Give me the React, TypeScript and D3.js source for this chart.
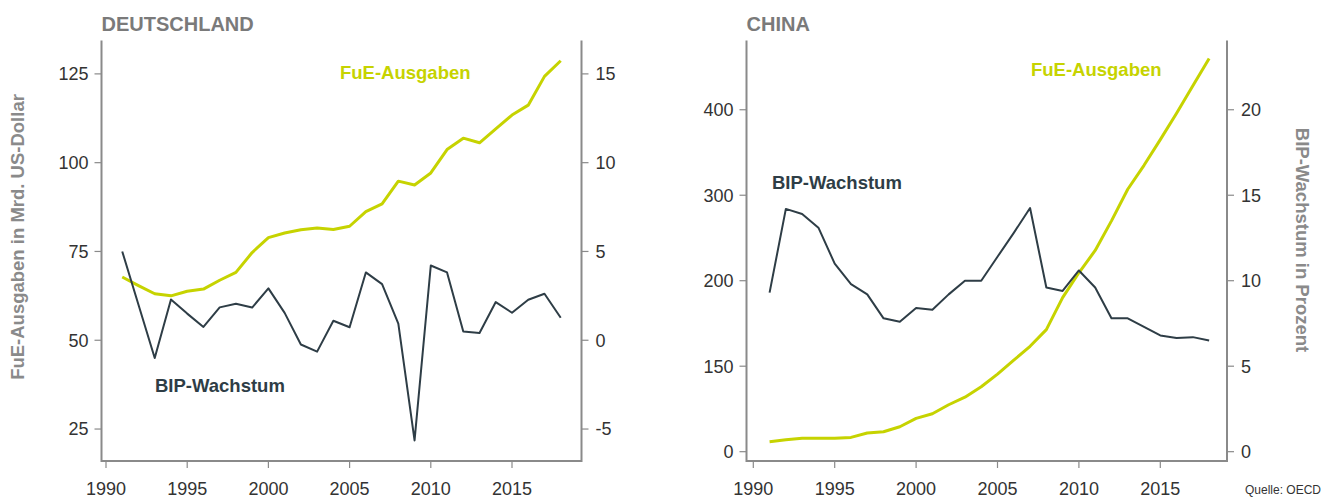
import React from 'react';
import * as d3 from 'd3';

// values (OECD)
const years = [1991, 1992, 1993, 1994, 1995, 1996, 1997, 1998, 1999, 2000, 2001, 2002, 2003, 2004,
  2005, 2006, 2007, 2008, 2009, 2010, 2011, 2012, 2013, 2014, 2015, 2016, 2017, 2018];

const deFue = [67.8, 65.4, 63.1, 62.5, 63.8, 64.4, 66.9, 69.1, 74.7, 78.9, 80.2, 81.1, 81.6, 81.2,
  82.1, 86.2, 88.4, 94.8, 93.7, 97.1, 103.7, 106.9, 105.6, 109.5, 113.4, 116.2, 124.3, 128.7];
const deBip = [5.0, 2.0, -1.0, 2.3, 1.5, 0.75, 1.85, 2.06, 1.84, 2.92, 1.54, -0.24, -0.64, 1.1,
  0.73, 3.82, 3.16, 0.94, -5.64, 4.21, 3.82, 0.49, 0.41, 2.15, 1.55, 2.28, 2.62, 1.27];

const cnFue = [11.7, 14, 15.6, 15.6, 15.6, 16.7, 21.8, 23.3, 29.2, 38.9, 44.4, 54.9, 63.8, 75.9,
  90.7, 107, 123.3, 142.8, 180.2, 209.3, 235.4, 270, 307, 335, 365, 396, 428, 460];
const cnBip = [9.3, 14.2, 13.9, 13.1, 11.0, 9.8, 9.2, 7.8, 7.6, 8.4, 8.3, 9.2, 10.0, 10.0,
  11.4, 12.8, 14.25, 9.6, 9.4, 10.6, 9.6, 7.8, 7.8, 7.3, 6.8, 6.65, 6.7, 6.5];

const xTicks = [1990, 1995, 2000, 2005, 2010, 2015];
const deLeftTicks = [25, 50, 75, 100, 125];
const deRightTicks = [-5, 0, 5, 10, 15];
const cnLeftTicks = [0, 100, 200, 300, 400];
const cnLeftTickLabels = ['0', '150', '200', '300', '400'];
const cnRightTicks = [0, 5, 10, 15, 20];

const YELLOW = '#c6d300';
const DARK = '#2e3d46';
const AXIS = '#8a8a8a';
const FONT = '"Liberation Sans", Arial, sans-serif';

type PanelProps = {
  title: string;
  left: number;
  right: number;
  x1990: number;
  pxPerYear: number;
  leftDomain: [number, number];
  rightDomain: [number, number];
  leftTicks: number[];
  leftLabels?: string[];
  rightTicks: number[];
  fue: number[];
  bip: number[];
  fueLabel: [number, number];
  bipLabel: [number, number];
};

const TOP = 40.5;
const BOTTOM = 461;

function Panel(p: PanelProps) {
  const x = d3.scaleLinear().domain([1990, 2015]).range([p.x1990, p.x1990 + 25 * p.pxPerYear]);
  const yl = d3.scaleLinear().domain(p.leftDomain).range([BOTTOM, TOP]);
  const yr = d3.scaleLinear().domain(p.rightDomain).range([BOTTOM, TOP]);

  const fueLine = d3.line<number>().x((_, i) => x(years[i])).y(d => yl(d));
  const bipLine = d3.line<number>().x((_, i) => x(years[i])).y(d => yr(d));

  return (
    <g fontFamily={FONT}>
      <text x={p.left} y={30.5} fontSize={20} fontWeight="bold" fill="#7a7a7a">{p.title}</text>

      <path d={`M${p.left},${TOP}V${BOTTOM}H${p.right}V${TOP}`} fill="none" stroke={AXIS} strokeWidth={2} />

      {p.leftTicks.map((t, i) => (
        <g key={'l' + t} transform={`translate(${p.left},${yl(t)})`}>
          <line x1={-7} x2={0} stroke={AXIS} strokeWidth={1.2} />
          <text x={-13} dy="0.35em" textAnchor="end" fontSize={18} fill="#333">
            {p.leftLabels ? p.leftLabels[i] : String(t)}
          </text>
        </g>
      ))}
      {p.rightTicks.map(t => (
        <g key={'r' + t} transform={`translate(${p.right},${yr(t)})`}>
          <line x1={0} x2={7} stroke={AXIS} strokeWidth={1.2} />
          <text x={14} dy="0.35em" fontSize={18} fill="#333">{String(t)}</text>
        </g>
      ))}
      {xTicks.map(t => (
        <g key={'x' + t} transform={`translate(${x(t)},${BOTTOM})`}>
          <line y1={0} y2={7} stroke={AXIS} strokeWidth={1.2} />
          <text y={33.5} textAnchor="middle" fontSize={18} fill="#333">{String(t)}</text>
        </g>
      ))}

      <path d={fueLine(p.fue) || ''} fill="none" stroke={YELLOW} strokeWidth={3} strokeLinejoin="round" />
      <path d={bipLine(p.bip) || ''} fill="none" stroke={DARK} strokeWidth={2} strokeLinejoin="round" />

      <text x={p.fueLabel[0]} y={p.fueLabel[1]} fontSize={18.5} fontWeight="bold" fill={YELLOW}>FuE-Ausgaben</text>
      <text x={p.bipLabel[0]} y={p.bipLabel[1]} fontSize={18.5} fontWeight="bold" fill={DARK}>BIP-Wachstum</text>
    </g>
  );
}

export default function App() {
  return (
    <div style={{ position: 'absolute', left: 0, top: 0 }}>
      <svg width={1333} height={497} style={{ display: 'block', background: '#fff' }}>
        <Panel
          title="DEUTSCHLAND"
          left={101.5}
          right={581.5}
          x1990={106}
          pxPerYear={16.24}
          leftDomain={[16, 134.4]}
          rightDomain={[-6.8, 16.88]}
          leftTicks={deLeftTicks}
          rightTicks={deRightTicks}
          fue={deFue}
          bip={deBip}
          fueLabel={[340, 79]}
          bipLabel={[155, 391.5]}
        />
        <Panel
          title="CHINA"
          left={746.5}
          right={1227}
          x1990={753.3}
          pxPerYear={16.28}
          leftDomain={[-10.9, 481]}
          rightDomain={[-0.545, 24.05]}
          leftTicks={cnLeftTicks}
          leftLabels={cnLeftTickLabels}
          rightTicks={cnRightTicks}
          fue={cnFue}
          bip={cnBip}
          fueLabel={[1031, 75.5]}
          bipLabel={[772, 189]}
        />
        <text transform="translate(24,237) rotate(-90)" textAnchor="middle" fontFamily={FONT}
          fontSize={18.5} fontWeight="bold" fill="#8a8a8a">FuE-Ausgaben in Mrd. US-Dollar</text>
        <text transform="translate(1296,240) rotate(90)" textAnchor="middle" fontFamily={FONT}
          fontSize={18.5} fontWeight="bold" fill="#8a8a8a">BIP-Wachstum in Prozent</text>
        <text x={1245} y={494} fontFamily={FONT} fontSize={12} fill="#333">Quelle: OECD</text>
      </svg>
    </div>
  );
}
